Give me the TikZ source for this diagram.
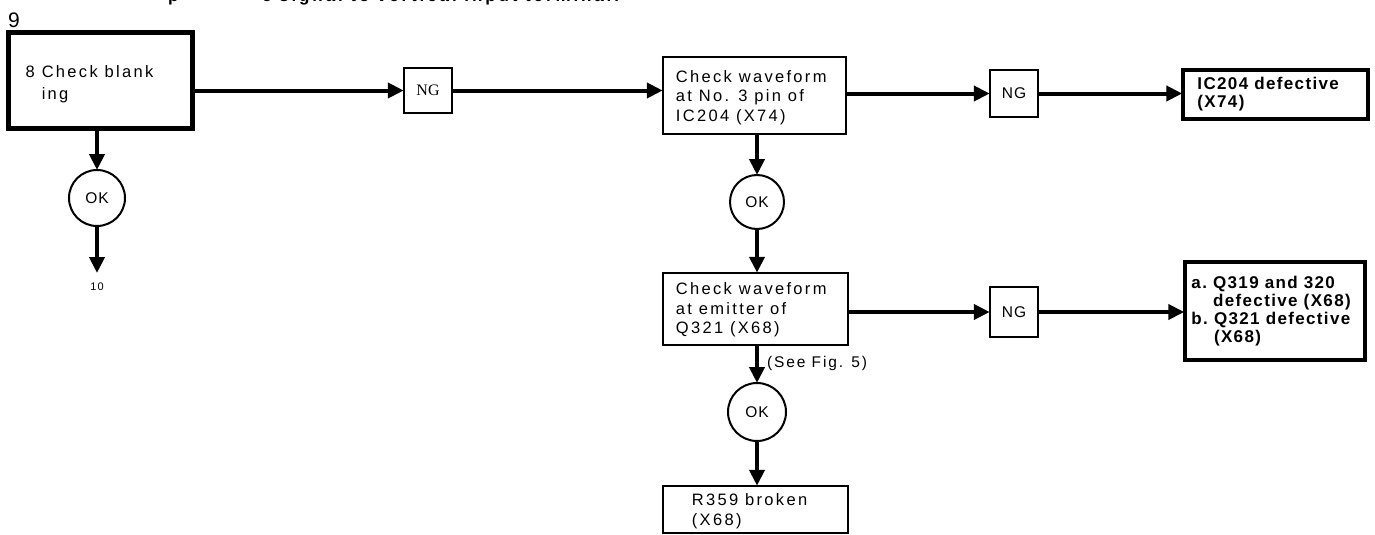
\documentclass[tikz,border=0pt]{standalone}
\usepackage{fontspec}
\setmainfont{Liberation Sans}
\newfontfamily\serifng{Liberation Serif}
\newfontfamily\spacedsans[LetterSpace=14]{Liberation Sans}
\newfontfamily\spacedbold[LetterSpace=8]{Liberation Sans Bold}
\usetikzlibrary{arrows.meta}
\tikzset{
  box/.style={draw, rectangle, line width=2.5pt, inner sep=0pt, anchor=center},
  thickbox/.style={box, line width=3.5pt},
  boxtext/.style={anchor=west, align=left, inner sep=0pt, font=\fontsize{16.5}{19.5}\spacedsans},
  boldtext/.style={anchor=west, align=left, inner sep=0pt, font=\fontsize{17}{17.8}\spacedbold},
  ngbox/.style={draw, rectangle, line width=2.5pt, minimum width=48pt, inner sep=0pt, font=\fontsize{15.5}{15.5}\selectfont\addfontfeatures{LetterSpace=6}},
  okc/.style={draw, circle, line width=2pt, minimum size=56pt, inner sep=0pt, font=\fontsize{15.5}{15.5}\selectfont\addfontfeatures{LetterSpace=6}},
  flow/.style={line width=4pt, -{Triangle[length=16pt,width=15pt]}, shorten >=-1pt}
}
\begin{document}
\begin{tikzpicture}[x=1pt,y=-1pt]
\useasboundingbox (0,0) rectangle (1375,535);
% clipped top line
\node[anchor=base west, inner sep=0pt, font=\fontsize{17}{17}\bfseries\addfontfeatures{LetterSpace=16}] (topline1) at (168,2) {p};
\node[anchor=base west, inner sep=0pt, font=\fontsize{17}{17}\bfseries\addfontfeatures{LetterSpace=17}] (topline2) at (262,2) {e signal to vertical input terminal.};
\node[anchor=center, inner sep=0pt, font=\fontsize{21}{21}\selectfont] (fignum) at (14,20) {9};
% boxes
\node[box, line width=5pt, minimum width=184pt, minimum height=95pt] (b1) at (100,80.5) {};
\node[boxtext, font=\fontsize{16.5}{22}\spacedsans] (b1t) at ([xshift=20pt]b1.west |- 0,84) {8 Check blank\\\phantom{8 }ing};
\node[box, minimum width=183pt, minimum height=77pt] (b2) at (754.5,95.5) {};
\node[boxtext] (b2t) at ([xshift=14pt]b2.west |- 0,97.5) {Check waveform\\at No. 3 pin of\\IC204 (X74)};
\node[thickbox, minimum width=185pt, minimum height=49pt] (b3) at (1275.5,94.5) {};
\node[boldtext] (b3t) at ([xshift=16pt]b3.west) {IC204 defective\\(X74)};
\node[box, minimum width=185pt, minimum height=72pt] (b4) at (755.5,309) {};
\node[boxtext] (b4t) at ([xshift=14pt]b4.west |- 0,310) {Check waveform\\at emitter of\\Q321 (X68)};
\node[thickbox, minimum width=180pt, minimum height=98pt] (b5) at (1275,311) {};
\node[boldtext] (b5t) at ([xshift=8pt]b5.west) {a.\ Q319 and 320\\\phantom{a.\ }defective (X68)\\b.\ Q321 defective\\\phantom{b.\ }(X68)};
\node[box, minimum width=185pt, minimum height=47pt] (b6) at (755.5,509.5) {};
\node[boxtext] (b6t) at ([xshift=30pt]b6.west |- 0,511) {R359 broken\\(X68)};
% NG boxes
\node[ngbox, minimum height=45pt, font=\fontsize{16}{16}\serifng] (ng1) at (428,90.5) {NG};
\node[ngbox, minimum height=47pt] (ng2) at (1014,93.5) {NG};
\node[ngbox, minimum height=50pt] (ng3) at (1014,312) {NG};
% OK circles
\node[okc] (ok1) at (97,198) {OK};
\node[okc, minimum size=54pt] (ok2) at (757,202) {OK};
\node[okc, minimum size=58pt] (ok3) at (757,412) {OK};
\coordinate (end1) at (97,272);
\node[font=\fontsize{11}{11}\selectfont\addfontfeatures{LetterSpace=10}, inner sep=0pt] (ten) at (97,287) {10};
\node[anchor=west, inner sep=0pt, font=\fontsize{15.5}{15.5}\selectfont\addfontfeatures{LetterSpace=12}] (see) at (767,363) {(See Fig. 5)};
% connectors
\draw[flow] (b1.east |- ng1) -- (ng1.west);
\draw[flow] (ng1.east) -- (b2.west |- ng1);
\draw[flow] (b2.east |- ng2) -- (ng2.west);
\draw[flow] (ng2.east) -- (b3.west |- ng2);
\draw[flow] (b4.east |- ng3) -- (ng3.west);
\draw[flow] (ng3.east) -- (b5.west |- ng3);
\draw[flow] (b1.south -| ok1) -- (ok1.north);
\draw[flow] (ok1.south) -- (end1);
\draw[flow] (ok2 |- b2.south) -- (ok2.north);
\draw[flow] (ok2.south) -- (ok2 |- b4.north);
\draw[flow] (ok3 |- b4.south) -- (ok3.north);
\draw[flow] (ok3.south) -- (ok3 |- b6.north);
\end{tikzpicture}
\end{document}
